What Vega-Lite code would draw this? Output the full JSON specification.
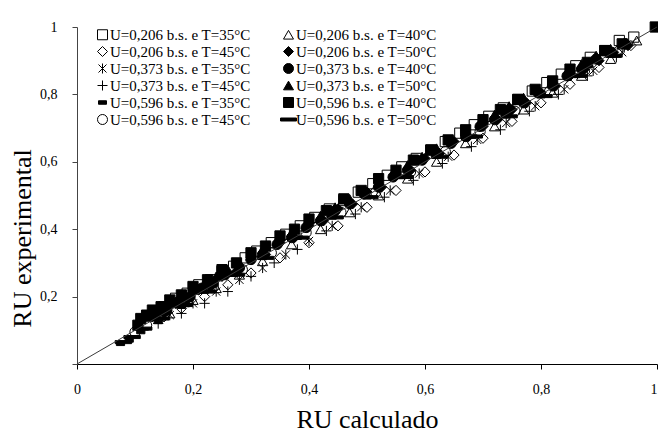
{
  "$schema": "https://vega.github.io/schema/vega-lite/v6.json",
  "width": 580,
  "height": 337,
  "autosize": {"type": "none"},
  "padding": {"left": 77, "top": 27, "right": 1, "bottom": 69},
  "config": {
    "font": "Liberation Serif",
    "view": {"stroke": null},
    "legend": {
      "orient": "none", "legendX": 18, "legendY": 0,
      "title": null, "columns": 2, "columnPadding": 27, "rowPadding": 1,
      "padding": 0, "labelFont": "Liberation Serif", "labelFontSize": 15, "labelColor": "#000", "labelOffset": 0,
      "symbolSize": 100, "symbolStrokeWidth": 1, "symbolStrokeColor": "black", "labelLimit": 300
    }
  },
  "layer": [
    {
      "data": {"values": [
        {"serie":"U=0,206 b.s. e T=35°C","x":0.96,"y":0.97},{"serie":"U=0,206 b.s. e T=35°C","x":0.91,"y":0.93},{"serie":"U=0,206 b.s. e T=35°C","x":0.86,"y":0.885},{"serie":"U=0,206 b.s. e T=35°C","x":0.81,"y":0.835},{"serie":"U=0,206 b.s. e T=35°C","x":0.76,"y":0.785},{"serie":"U=0,206 b.s. e T=35°C","x":0.71,"y":0.735},{"serie":"U=0,206 b.s. e T=35°C","x":0.66,"y":0.685},{"serie":"U=0,206 b.s. e T=35°C","x":0.61,"y":0.635},{"serie":"U=0,206 b.s. e T=35°C","x":0.56,"y":0.585},{"serie":"U=0,206 b.s. e T=35°C","x":0.51,"y":0.535},{"serie":"U=0,206 b.s. e T=35°C","x":0.46,"y":0.485},{"serie":"U=0,206 b.s. e T=35°C","x":0.41,"y":0.435},{"serie":"U=0,206 b.s. e T=35°C","x":0.36,"y":0.385},{"serie":"U=0,206 b.s. e T=35°C","x":0.31,"y":0.335},{"serie":"U=0,206 b.s. e T=35°C","x":0.27,"y":0.29},{"serie":"U=0,206 b.s. e T=35°C","x":0.23,"y":0.25},{"serie":"U=0,206 b.s. e T=35°C","x":0.19,"y":0.21},{"serie":"U=0,206 b.s. e T=35°C","x":0.15,"y":0.17},
        {"serie":"U=0,206 b.s. e T=35°C","x":0.935,"y":0.96},{"serie":"U=0,206 b.s. e T=35°C","x":0.885,"y":0.91},{"serie":"U=0,206 b.s. e T=35°C","x":0.835,"y":0.86},{"serie":"U=0,206 b.s. e T=35°C","x":0.785,"y":0.81},{"serie":"U=0,206 b.s. e T=35°C","x":0.735,"y":0.76},{"serie":"U=0,206 b.s. e T=35°C","x":0.685,"y":0.71},{"serie":"U=0,206 b.s. e T=35°C","x":0.635,"y":0.66},{"serie":"U=0,206 b.s. e T=35°C","x":0.585,"y":0.61},{"serie":"U=0,206 b.s. e T=35°C","x":0.535,"y":0.56},{"serie":"U=0,206 b.s. e T=35°C","x":0.485,"y":0.51},{"serie":"U=0,206 b.s. e T=35°C","x":0.435,"y":0.46},{"serie":"U=0,206 b.s. e T=35°C","x":0.385,"y":0.41},{"serie":"U=0,206 b.s. e T=35°C","x":0.335,"y":0.36},{"serie":"U=0,206 b.s. e T=35°C","x":0.29,"y":0.315},{"serie":"U=0,206 b.s. e T=35°C","x":0.25,"y":0.275},{"serie":"U=0,206 b.s. e T=35°C","x":0.21,"y":0.235},{"serie":"U=0,206 b.s. e T=35°C","x":0.17,"y":0.195},
        {"serie":"U=0,206 b.s. e T=40°C","x":0.965,"y":0.96},{"serie":"U=0,206 b.s. e T=40°C","x":0.92,"y":0.905},{"serie":"U=0,206 b.s. e T=40°C","x":0.87,"y":0.855},{"serie":"U=0,206 b.s. e T=40°C","x":0.82,"y":0.805},{"serie":"U=0,206 b.s. e T=40°C","x":0.77,"y":0.755},{"serie":"U=0,206 b.s. e T=40°C","x":0.72,"y":0.705},{"serie":"U=0,206 b.s. e T=40°C","x":0.67,"y":0.655},{"serie":"U=0,206 b.s. e T=40°C","x":0.62,"y":0.6},{"serie":"U=0,206 b.s. e T=40°C","x":0.57,"y":0.55},{"serie":"U=0,206 b.s. e T=40°C","x":0.52,"y":0.5},{"serie":"U=0,206 b.s. e T=40°C","x":0.47,"y":0.45},{"serie":"U=0,206 b.s. e T=40°C","x":0.42,"y":0.4},{"serie":"U=0,206 b.s. e T=40°C","x":0.37,"y":0.355},{"serie":"U=0,206 b.s. e T=40°C","x":0.32,"y":0.305},{"serie":"U=0,206 b.s. e T=40°C","x":0.28,"y":0.265},{"serie":"U=0,206 b.s. e T=40°C","x":0.24,"y":0.225},{"serie":"U=0,206 b.s. e T=40°C","x":0.2,"y":0.19},{"serie":"U=0,206 b.s. e T=40°C","x":0.16,"y":0.15},
        {"serie":"U=0,206 b.s. e T=45°C","x":0.955,"y":0.945},{"serie":"U=0,206 b.s. e T=45°C","x":0.9,"y":0.88},{"serie":"U=0,206 b.s. e T=45°C","x":0.85,"y":0.83},{"serie":"U=0,206 b.s. e T=45°C","x":0.8,"y":0.775},{"serie":"U=0,206 b.s. e T=45°C","x":0.75,"y":0.72},{"serie":"U=0,206 b.s. e T=45°C","x":0.7,"y":0.67},{"serie":"U=0,206 b.s. e T=45°C","x":0.65,"y":0.62},{"serie":"U=0,206 b.s. e T=45°C","x":0.6,"y":0.57},{"serie":"U=0,206 b.s. e T=45°C","x":0.55,"y":0.515},{"serie":"U=0,206 b.s. e T=45°C","x":0.5,"y":0.465},{"serie":"U=0,206 b.s. e T=45°C","x":0.45,"y":0.41},{"serie":"U=0,206 b.s. e T=45°C","x":0.4,"y":0.36},{"serie":"U=0,206 b.s. e T=45°C","x":0.35,"y":0.315},{"serie":"U=0,206 b.s. e T=45°C","x":0.3,"y":0.27},{"serie":"U=0,206 b.s. e T=45°C","x":0.26,"y":0.235},{"serie":"U=0,206 b.s. e T=45°C","x":0.22,"y":0.2},{"serie":"U=0,206 b.s. e T=45°C","x":0.18,"y":0.165},{"serie":"U=0,206 b.s. e T=45°C","x":0.15,"y":0.14},
        {"serie":"U=0,206 b.s. e T=50°C","x":0.95,"y":0.945},{"serie":"U=0,206 b.s. e T=50°C","x":0.9,"y":0.9},{"serie":"U=0,206 b.s. e T=50°C","x":0.85,"y":0.855},{"serie":"U=0,206 b.s. e T=50°C","x":0.8,"y":0.805},{"serie":"U=0,206 b.s. e T=50°C","x":0.75,"y":0.755},{"serie":"U=0,206 b.s. e T=50°C","x":0.7,"y":0.705},{"serie":"U=0,206 b.s. e T=50°C","x":0.65,"y":0.66},{"serie":"U=0,206 b.s. e T=50°C","x":0.6,"y":0.61},{"serie":"U=0,206 b.s. e T=50°C","x":0.55,"y":0.56},{"serie":"U=0,206 b.s. e T=50°C","x":0.5,"y":0.51},{"serie":"U=0,206 b.s. e T=50°C","x":0.45,"y":0.46},{"serie":"U=0,206 b.s. e T=50°C","x":0.4,"y":0.41},{"serie":"U=0,206 b.s. e T=50°C","x":0.35,"y":0.36},{"serie":"U=0,206 b.s. e T=50°C","x":0.3,"y":0.31},{"serie":"U=0,206 b.s. e T=50°C","x":0.25,"y":0.26},{"serie":"U=0,206 b.s. e T=50°C","x":0.21,"y":0.22},{"serie":"U=0,206 b.s. e T=50°C","x":0.17,"y":0.18},{"serie":"U=0,206 b.s. e T=50°C","x":0.13,"y":0.14},
        {"serie":"U=0,206 b.s. e T=50°C","x":0.925,"y":0.925},{"serie":"U=0,206 b.s. e T=50°C","x":0.875,"y":0.875},{"serie":"U=0,206 b.s. e T=50°C","x":0.825,"y":0.825},{"serie":"U=0,206 b.s. e T=50°C","x":0.775,"y":0.775},{"serie":"U=0,206 b.s. e T=50°C","x":0.725,"y":0.725},{"serie":"U=0,206 b.s. e T=50°C","x":0.675,"y":0.675},{"serie":"U=0,206 b.s. e T=50°C","x":0.625,"y":0.625},{"serie":"U=0,206 b.s. e T=50°C","x":0.575,"y":0.575},{"serie":"U=0,206 b.s. e T=50°C","x":0.525,"y":0.525},{"serie":"U=0,206 b.s. e T=50°C","x":0.475,"y":0.475},{"serie":"U=0,206 b.s. e T=50°C","x":0.425,"y":0.425},{"serie":"U=0,206 b.s. e T=50°C","x":0.375,"y":0.375},{"serie":"U=0,206 b.s. e T=50°C","x":0.325,"y":0.325},{"serie":"U=0,206 b.s. e T=50°C","x":0.275,"y":0.275},{"serie":"U=0,206 b.s. e T=50°C","x":0.23,"y":0.23},{"serie":"U=0,206 b.s. e T=50°C","x":0.19,"y":0.19},{"serie":"U=0,206 b.s. e T=50°C","x":0.15,"y":0.15},
        {"serie":"U=0,373 b.s. e T=35°C","x":0.94,"y":0.925},{"serie":"U=0,373 b.s. e T=35°C","x":0.89,"y":0.87},{"serie":"U=0,373 b.s. e T=35°C","x":0.84,"y":0.815},{"serie":"U=0,373 b.s. e T=35°C","x":0.79,"y":0.765},{"serie":"U=0,373 b.s. e T=35°C","x":0.74,"y":0.715},{"serie":"U=0,373 b.s. e T=35°C","x":0.69,"y":0.665},{"serie":"U=0,373 b.s. e T=35°C","x":0.64,"y":0.615},{"serie":"U=0,373 b.s. e T=35°C","x":0.59,"y":0.565},{"serie":"U=0,373 b.s. e T=35°C","x":0.54,"y":0.515},{"serie":"U=0,373 b.s. e T=35°C","x":0.49,"y":0.465},{"serie":"U=0,373 b.s. e T=35°C","x":0.44,"y":0.41},{"serie":"U=0,373 b.s. e T=35°C","x":0.4,"y":0.365},{"serie":"U=0,373 b.s. e T=35°C","x":0.36,"y":0.325},{"serie":"U=0,373 b.s. e T=35°C","x":0.32,"y":0.285},{"serie":"U=0,373 b.s. e T=35°C","x":0.28,"y":0.25},{"serie":"U=0,373 b.s. e T=35°C","x":0.24,"y":0.215},{"serie":"U=0,373 b.s. e T=35°C","x":0.2,"y":0.18},{"serie":"U=0,373 b.s. e T=35°C","x":0.16,"y":0.145},
        {"serie":"U=0,373 b.s. e T=40°C","x":0.945,"y":0.95},{"serie":"U=0,373 b.s. e T=40°C","x":0.895,"y":0.905},{"serie":"U=0,373 b.s. e T=40°C","x":0.845,"y":0.855},{"serie":"U=0,373 b.s. e T=40°C","x":0.795,"y":0.805},{"serie":"U=0,373 b.s. e T=40°C","x":0.745,"y":0.755},{"serie":"U=0,373 b.s. e T=40°C","x":0.695,"y":0.705},{"serie":"U=0,373 b.s. e T=40°C","x":0.645,"y":0.655},{"serie":"U=0,373 b.s. e T=40°C","x":0.595,"y":0.605},{"serie":"U=0,373 b.s. e T=40°C","x":0.545,"y":0.555},{"serie":"U=0,373 b.s. e T=40°C","x":0.495,"y":0.505},{"serie":"U=0,373 b.s. e T=40°C","x":0.445,"y":0.455},{"serie":"U=0,373 b.s. e T=40°C","x":0.395,"y":0.405},{"serie":"U=0,373 b.s. e T=40°C","x":0.345,"y":0.355},{"serie":"U=0,373 b.s. e T=40°C","x":0.3,"y":0.31},{"serie":"U=0,373 b.s. e T=40°C","x":0.255,"y":0.265},{"serie":"U=0,373 b.s. e T=40°C","x":0.215,"y":0.225},{"serie":"U=0,373 b.s. e T=40°C","x":0.175,"y":0.185},{"serie":"U=0,373 b.s. e T=40°C","x":0.135,"y":0.145},
        {"serie":"U=0,373 b.s. e T=40°C","x":0.92,"y":0.925},{"serie":"U=0,373 b.s. e T=40°C","x":0.87,"y":0.875},{"serie":"U=0,373 b.s. e T=40°C","x":0.82,"y":0.825},{"serie":"U=0,373 b.s. e T=40°C","x":0.77,"y":0.775},{"serie":"U=0,373 b.s. e T=40°C","x":0.72,"y":0.725},{"serie":"U=0,373 b.s. e T=40°C","x":0.67,"y":0.675},{"serie":"U=0,373 b.s. e T=40°C","x":0.62,"y":0.625},{"serie":"U=0,373 b.s. e T=40°C","x":0.57,"y":0.575},{"serie":"U=0,373 b.s. e T=40°C","x":0.52,"y":0.525},{"serie":"U=0,373 b.s. e T=40°C","x":0.47,"y":0.475},{"serie":"U=0,373 b.s. e T=40°C","x":0.42,"y":0.425},{"serie":"U=0,373 b.s. e T=40°C","x":0.37,"y":0.375},{"serie":"U=0,373 b.s. e T=40°C","x":0.32,"y":0.325},{"serie":"U=0,373 b.s. e T=40°C","x":0.28,"y":0.285},{"serie":"U=0,373 b.s. e T=40°C","x":0.235,"y":0.24},{"serie":"U=0,373 b.s. e T=40°C","x":0.195,"y":0.2},{"serie":"U=0,373 b.s. e T=40°C","x":0.155,"y":0.16},
        {"serie":"U=0,373 b.s. e T=45°C","x":0.93,"y":0.91},{"serie":"U=0,373 b.s. e T=45°C","x":0.88,"y":0.855},{"serie":"U=0,373 b.s. e T=45°C","x":0.83,"y":0.8},{"serie":"U=0,373 b.s. e T=45°C","x":0.78,"y":0.75},{"serie":"U=0,373 b.s. e T=45°C","x":0.73,"y":0.695},{"serie":"U=0,373 b.s. e T=45°C","x":0.68,"y":0.645},{"serie":"U=0,373 b.s. e T=45°C","x":0.63,"y":0.595},{"serie":"U=0,373 b.s. e T=45°C","x":0.58,"y":0.545},{"serie":"U=0,373 b.s. e T=45°C","x":0.53,"y":0.495},{"serie":"U=0,373 b.s. e T=45°C","x":0.48,"y":0.445},{"serie":"U=0,373 b.s. e T=45°C","x":0.43,"y":0.395},{"serie":"U=0,373 b.s. e T=45°C","x":0.38,"y":0.34},{"serie":"U=0,373 b.s. e T=45°C","x":0.34,"y":0.3},{"serie":"U=0,373 b.s. e T=45°C","x":0.3,"y":0.26},{"serie":"U=0,373 b.s. e T=45°C","x":0.26,"y":0.215},{"serie":"U=0,373 b.s. e T=45°C","x":0.22,"y":0.18},{"serie":"U=0,373 b.s. e T=45°C","x":0.18,"y":0.15},{"serie":"U=0,373 b.s. e T=45°C","x":0.14,"y":0.12},
        {"serie":"U=0,373 b.s. e T=50°C","x":0.92,"y":0.935},{"serie":"U=0,373 b.s. e T=50°C","x":0.87,"y":0.89},{"serie":"U=0,373 b.s. e T=50°C","x":0.82,"y":0.84},{"serie":"U=0,373 b.s. e T=50°C","x":0.77,"y":0.79},{"serie":"U=0,373 b.s. e T=50°C","x":0.72,"y":0.74},{"serie":"U=0,373 b.s. e T=50°C","x":0.67,"y":0.69},{"serie":"U=0,373 b.s. e T=50°C","x":0.62,"y":0.64},{"serie":"U=0,373 b.s. e T=50°C","x":0.57,"y":0.59},{"serie":"U=0,373 b.s. e T=50°C","x":0.52,"y":0.54},{"serie":"U=0,373 b.s. e T=50°C","x":0.47,"y":0.49},{"serie":"U=0,373 b.s. e T=50°C","x":0.42,"y":0.44},{"serie":"U=0,373 b.s. e T=50°C","x":0.37,"y":0.39},{"serie":"U=0,373 b.s. e T=50°C","x":0.32,"y":0.34},{"serie":"U=0,373 b.s. e T=50°C","x":0.28,"y":0.3},{"serie":"U=0,373 b.s. e T=50°C","x":0.24,"y":0.26},{"serie":"U=0,373 b.s. e T=50°C","x":0.2,"y":0.22},{"serie":"U=0,373 b.s. e T=50°C","x":0.16,"y":0.18},{"serie":"U=0,373 b.s. e T=50°C","x":0.12,"y":0.14},
        {"serie":"U=0,373 b.s. e T=50°C","x":0.895,"y":0.915},{"serie":"U=0,373 b.s. e T=50°C","x":0.845,"y":0.865},{"serie":"U=0,373 b.s. e T=50°C","x":0.795,"y":0.815},{"serie":"U=0,373 b.s. e T=50°C","x":0.745,"y":0.765},{"serie":"U=0,373 b.s. e T=50°C","x":0.695,"y":0.715},{"serie":"U=0,373 b.s. e T=50°C","x":0.645,"y":0.665},{"serie":"U=0,373 b.s. e T=50°C","x":0.595,"y":0.615},{"serie":"U=0,373 b.s. e T=50°C","x":0.545,"y":0.565},{"serie":"U=0,373 b.s. e T=50°C","x":0.495,"y":0.515},{"serie":"U=0,373 b.s. e T=50°C","x":0.445,"y":0.465},{"serie":"U=0,373 b.s. e T=50°C","x":0.395,"y":0.415},{"serie":"U=0,373 b.s. e T=50°C","x":0.345,"y":0.365},{"serie":"U=0,373 b.s. e T=50°C","x":0.3,"y":0.32},{"serie":"U=0,373 b.s. e T=50°C","x":0.26,"y":0.28},{"serie":"U=0,373 b.s. e T=50°C","x":0.22,"y":0.24},{"serie":"U=0,373 b.s. e T=50°C","x":0.18,"y":0.2},{"serie":"U=0,373 b.s. e T=50°C","x":0.14,"y":0.16},
        {"serie":"U=0,596 b.s. e T=35°C","x":0.92,"y":0.915},{"serie":"U=0,596 b.s. e T=35°C","x":0.86,"y":0.855},{"serie":"U=0,596 b.s. e T=35°C","x":0.8,"y":0.795},{"serie":"U=0,596 b.s. e T=35°C","x":0.74,"y":0.735},{"serie":"U=0,596 b.s. e T=35°C","x":0.68,"y":0.675},{"serie":"U=0,596 b.s. e T=35°C","x":0.62,"y":0.615},{"serie":"U=0,596 b.s. e T=35°C","x":0.56,"y":0.555},{"serie":"U=0,596 b.s. e T=35°C","x":0.5,"y":0.495},{"serie":"U=0,596 b.s. e T=35°C","x":0.44,"y":0.435},{"serie":"U=0,596 b.s. e T=35°C","x":0.38,"y":0.375},{"serie":"U=0,596 b.s. e T=35°C","x":0.32,"y":0.315},{"serie":"U=0,596 b.s. e T=35°C","x":0.27,"y":0.265},{"serie":"U=0,596 b.s. e T=35°C","x":0.22,"y":0.215},{"serie":"U=0,596 b.s. e T=35°C","x":0.18,"y":0.17},{"serie":"U=0,596 b.s. e T=35°C","x":0.14,"y":0.125},{"serie":"U=0,596 b.s. e T=35°C","x":0.11,"y":0.095},{"serie":"U=0,596 b.s. e T=35°C","x":0.09,"y":0.07},{"serie":"U=0,596 b.s. e T=35°C","x":0.075,"y":0.06},
        {"serie":"U=0,596 b.s. e T=40°C","x":0.997,"y":1.0},{"serie":"U=0,596 b.s. e T=40°C","x":0.94,"y":0.95},{"serie":"U=0,596 b.s. e T=40°C","x":0.88,"y":0.895},{"serie":"U=0,596 b.s. e T=40°C","x":0.82,"y":0.84},{"serie":"U=0,596 b.s. e T=40°C","x":0.76,"y":0.785},{"serie":"U=0,596 b.s. e T=40°C","x":0.7,"y":0.725},{"serie":"U=0,596 b.s. e T=40°C","x":0.64,"y":0.665},{"serie":"U=0,596 b.s. e T=40°C","x":0.58,"y":0.605},{"serie":"U=0,596 b.s. e T=40°C","x":0.52,"y":0.55},{"serie":"U=0,596 b.s. e T=40°C","x":0.46,"y":0.49},{"serie":"U=0,596 b.s. e T=40°C","x":0.4,"y":0.43},{"serie":"U=0,596 b.s. e T=40°C","x":0.35,"y":0.38},{"serie":"U=0,596 b.s. e T=40°C","x":0.3,"y":0.33},{"serie":"U=0,596 b.s. e T=40°C","x":0.25,"y":0.28},{"serie":"U=0,596 b.s. e T=40°C","x":0.2,"y":0.23},{"serie":"U=0,596 b.s. e T=40°C","x":0.16,"y":0.19},{"serie":"U=0,596 b.s. e T=40°C","x":0.13,"y":0.16},{"serie":"U=0,596 b.s. e T=40°C","x":0.11,"y":0.135},{"serie":"U=0,596 b.s. e T=40°C","x":0.105,"y":0.115},
        {"serie":"U=0,596 b.s. e T=40°C","x":0.91,"y":0.93},{"serie":"U=0,596 b.s. e T=40°C","x":0.85,"y":0.875},{"serie":"U=0,596 b.s. e T=40°C","x":0.79,"y":0.815},{"serie":"U=0,596 b.s. e T=40°C","x":0.73,"y":0.755},{"serie":"U=0,596 b.s. e T=40°C","x":0.67,"y":0.695},{"serie":"U=0,596 b.s. e T=40°C","x":0.61,"y":0.635},{"serie":"U=0,596 b.s. e T=40°C","x":0.55,"y":0.575},{"serie":"U=0,596 b.s. e T=40°C","x":0.49,"y":0.515},{"serie":"U=0,596 b.s. e T=40°C","x":0.43,"y":0.455},{"serie":"U=0,596 b.s. e T=40°C","x":0.375,"y":0.4},{"serie":"U=0,596 b.s. e T=40°C","x":0.325,"y":0.35},{"serie":"U=0,596 b.s. e T=40°C","x":0.275,"y":0.3},{"serie":"U=0,596 b.s. e T=40°C","x":0.225,"y":0.25},{"serie":"U=0,596 b.s. e T=40°C","x":0.18,"y":0.205},{"serie":"U=0,596 b.s. e T=40°C","x":0.145,"y":0.17},{"serie":"U=0,596 b.s. e T=40°C","x":0.12,"y":0.145},
        {"serie":"U=0,596 b.s. e T=45°C","x":0.935,"y":0.93},{"serie":"U=0,596 b.s. e T=45°C","x":0.875,"y":0.87},{"serie":"U=0,596 b.s. e T=45°C","x":0.815,"y":0.81},{"serie":"U=0,596 b.s. e T=45°C","x":0.755,"y":0.75},{"serie":"U=0,596 b.s. e T=45°C","x":0.695,"y":0.69},{"serie":"U=0,596 b.s. e T=45°C","x":0.635,"y":0.63},{"serie":"U=0,596 b.s. e T=45°C","x":0.575,"y":0.57},{"serie":"U=0,596 b.s. e T=45°C","x":0.515,"y":0.51},{"serie":"U=0,596 b.s. e T=45°C","x":0.455,"y":0.45},{"serie":"U=0,596 b.s. e T=45°C","x":0.395,"y":0.39},{"serie":"U=0,596 b.s. e T=45°C","x":0.335,"y":0.33},{"serie":"U=0,596 b.s. e T=45°C","x":0.285,"y":0.28},{"serie":"U=0,596 b.s. e T=45°C","x":0.235,"y":0.23},{"serie":"U=0,596 b.s. e T=45°C","x":0.19,"y":0.185},{"serie":"U=0,596 b.s. e T=45°C","x":0.15,"y":0.145},{"serie":"U=0,596 b.s. e T=45°C","x":0.12,"y":0.115},{"serie":"U=0,596 b.s. e T=45°C","x":0.1,"y":0.095},
        {"serie":"U=0,596 b.s. e T=50°C","x":0.925,"y":0.915},{"serie":"U=0,596 b.s. e T=50°C","x":0.865,"y":0.855},{"serie":"U=0,596 b.s. e T=50°C","x":0.805,"y":0.795},{"serie":"U=0,596 b.s. e T=50°C","x":0.745,"y":0.735},{"serie":"U=0,596 b.s. e T=50°C","x":0.685,"y":0.675},{"serie":"U=0,596 b.s. e T=50°C","x":0.625,"y":0.615},{"serie":"U=0,596 b.s. e T=50°C","x":0.565,"y":0.555},{"serie":"U=0,596 b.s. e T=50°C","x":0.505,"y":0.495},{"serie":"U=0,596 b.s. e T=50°C","x":0.445,"y":0.435},{"serie":"U=0,596 b.s. e T=50°C","x":0.385,"y":0.375},{"serie":"U=0,596 b.s. e T=50°C","x":0.325,"y":0.315},{"serie":"U=0,596 b.s. e T=50°C","x":0.275,"y":0.265},{"serie":"U=0,596 b.s. e T=50°C","x":0.225,"y":0.215},{"serie":"U=0,596 b.s. e T=50°C","x":0.185,"y":0.175},{"serie":"U=0,596 b.s. e T=50°C","x":0.145,"y":0.135},{"serie":"U=0,596 b.s. e T=50°C","x":0.115,"y":0.105},{"serie":"U=0,596 b.s. e T=50°C","x":0.095,"y":0.08},{"serie":"U=0,596 b.s. e T=50°C","x":0.08,"y":0.065}
      ]},
      "mark": {"type": "point", "filled": false, "strokeWidth": 1, "opacity": 1, "size": 105},
      "encoding": {
        "x": {
          "field": "x", "type": "quantitative",
          "scale": {"domain": [0, 1], "nice": false, "zero": true},
          "axis": {
            "title": "RU calculado",
            "values": [0, 0.2, 0.4, 0.6, 0.8, 1],
            "labelExpr": "replace(format(datum.value, '~g'), '.', ',')",
            "labelAlign": {"condition": {"test": "datum.value == 1", "value": "right"}, "value": "center"},
            "grid": false,
            "tickSize": 5,
            "domainColor": "#000", "tickColor": "#000",
            "labelColor": "#000", "titleColor": "#000",
            "labelFont": "Liberation Serif", "titleFont": "Liberation Serif",
            "labelFontSize": 14, "labelPadding": 13,
            "titleFontSize": 26, "titleFontWeight": "normal",
            "titleBaseline": "alphabetic", "titleY": 63
          }
        },
        "y": {
          "field": "y", "type": "quantitative",
          "scale": {"domain": [0, 1], "nice": false, "zero": true},
          "axis": {
            "title": "RU experimental",
            "values": [0, 0.2, 0.4, 0.6, 0.8, 1],
            "labelExpr": "datum.value == 0 ? '' : replace(format(datum.value, '~g'), '.', ',')",
            "grid": false,
            "tickSize": 5,
            "domainColor": "#444", "tickColor": "#444",
            "labelColor": "#000", "titleColor": "#000",
            "labelFont": "Liberation Serif", "titleFont": "Liberation Serif",
            "labelFontSize": 14, "labelPadding": 15,
            "titleFontSize": 26, "titleFontWeight": "normal",
            "titleBaseline": "alphabetic", "titleX": -47, "titleY": 211, "titleAngle": -90
          }
        },
        "shape": {
          "field": "serie", "type": "nominal",
          "scale": {
            "domain": ["U=0,206 b.s. e T=35°C","U=0,206 b.s. e T=45°C","U=0,373 b.s. e T=35°C","U=0,373 b.s. e T=45°C","U=0,596 b.s. e T=35°C","U=0,596 b.s. e T=45°C","U=0,206 b.s. e T=40°C","U=0,206 b.s. e T=50°C","U=0,373 b.s. e T=40°C","U=0,373 b.s. e T=50°C","U=0,596 b.s. e T=40°C","U=0,596 b.s. e T=50°C"],
            "range": ["square","diamond","M-0.8,-0.8L0.8,0.8M-0.8,0.8L0.8,-0.8M0,-1V1","M-1,0H1M0,-1V1","M-0.8,-0.35H0.8V0.35H-0.8Z","circle","triangle-up","diamond","circle","triangle-up","square","M-1.6,-0.3H1.6V0.3H-1.6Z"]
          }
        },
        "fill": {
          "field": "serie", "type": "nominal",
          "scale": {
            "domain": ["U=0,206 b.s. e T=35°C","U=0,206 b.s. e T=45°C","U=0,373 b.s. e T=35°C","U=0,373 b.s. e T=45°C","U=0,596 b.s. e T=35°C","U=0,596 b.s. e T=45°C","U=0,206 b.s. e T=40°C","U=0,206 b.s. e T=50°C","U=0,373 b.s. e T=40°C","U=0,373 b.s. e T=50°C","U=0,596 b.s. e T=40°C","U=0,596 b.s. e T=50°C"],
            "range": ["transparent","transparent","transparent","transparent","black","transparent","transparent","black","black","black","black","black"]
          }
        },
        "stroke": {
          "field": "serie", "type": "nominal",
          "scale": {
            "domain": ["U=0,206 b.s. e T=35°C","U=0,206 b.s. e T=45°C","U=0,373 b.s. e T=35°C","U=0,373 b.s. e T=45°C","U=0,596 b.s. e T=35°C","U=0,596 b.s. e T=45°C","U=0,206 b.s. e T=40°C","U=0,206 b.s. e T=50°C","U=0,373 b.s. e T=40°C","U=0,373 b.s. e T=50°C","U=0,596 b.s. e T=40°C","U=0,596 b.s. e T=50°C"],
            "range": ["black","black","black","black","black","black","black","black","black","black","black","black"]
          }
        }
      }
    },
    {
      "data": {"values": [{"x": 0, "y": 0}, {"x": 1, "y": 1}]},
      "mark": {"type": "line", "color": "#3a3a3a", "strokeWidth": 1},
      "encoding": {
        "x": {"field": "x", "type": "quantitative"},
        "y": {"field": "y", "type": "quantitative"}
      }
    }
  ]
}
